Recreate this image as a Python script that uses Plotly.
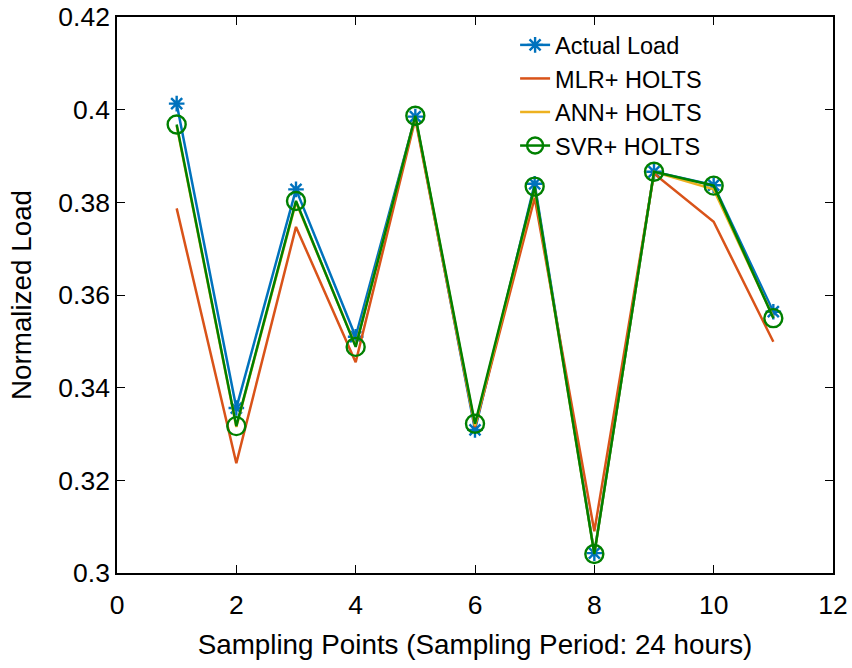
import plotly.graph_objects as go

# Sampling points (one per day)
x_points = [1, 2, 3, 4, 5, 6, 7, 8, 9, 10, 11]

# Normalized load: measured and forecasts from each hybrid model
actual_load = [0.4013, 0.3356, 0.3828, 0.3510, 0.3985, 0.3309, 0.3840, 0.3043, 0.3866, 0.3837, 0.3564]
mlr_holts = [0.3787, 0.3237, 0.3747, 0.3455, 0.3980, 0.3315, 0.3810, 0.3090, 0.3862, 0.3758, 0.3499]
ann_holts = [0.3965, 0.3315, 0.3800, 0.3490, 0.3985, 0.3318, 0.3830, 0.3042, 0.3866, 0.3828, 0.3552]
svr_holts = [0.3968, 0.3317, 0.3803, 0.3488, 0.3987, 0.3322, 0.3834, 0.3041, 0.3866, 0.3836, 0.3550]

x_ticks = [0, 2, 4, 6, 8, 10, 12]
y_ticks = [0.30, 0.32, 0.34, 0.36, 0.38, 0.40, 0.42]
y_tick_text = ["0.3", "0.32", "0.34", "0.36", "0.38", "0.4", "0.42"]

BLUE = "#0072BD"
ORANGE = "#D95319"
YELLOW = "#EDB120"
GREEN = "#008000"
FONT = "Liberation Sans, Arial, sans-serif"
LW = 2.5

fig = go.Figure()
fig.add_trace(go.Scatter(
    x=x_points, y=actual_load, name="Actual Load", mode="lines+markers",
    line=dict(color=BLUE, width=LW),
    marker=dict(symbol="asterisk-open", size=13, color=BLUE, line=dict(color=BLUE, width=2.4)),
))
fig.add_trace(go.Scatter(
    x=x_points, y=mlr_holts, name="MLR+ HOLTS", mode="lines",
    line=dict(color=ORANGE, width=LW),
))
fig.add_trace(go.Scatter(
    x=x_points, y=ann_holts, name="ANN+ HOLTS", mode="lines",
    line=dict(color=YELLOW, width=LW),
))
fig.add_trace(go.Scatter(
    x=x_points, y=svr_holts, name="SVR+ HOLTS", mode="lines+markers",
    line=dict(color=GREEN, width=LW),
    marker=dict(symbol="circle-open", size=18, color=GREEN, line=dict(color=GREEN, width=2.4)),
))

axis_common = dict(
    showline=True, linecolor="black", linewidth=1.6, mirror="ticks",
    ticks="inside", ticklen=8, tickwidth=1.4, tickcolor="black",
    showgrid=False, zeroline=False, automargin=False,
    tickfont=dict(family=FONT, size=26.5, color="black"),
)

fig.update_xaxes(
    range=[0, 12], tickvals=x_ticks, ticktext=[str(v) for v in x_ticks],
    ticklabelstandoff=7,
    title=dict(text="Sampling Points (Sampling Period: 24 hours)", standoff=16,
               font=dict(family=FONT, size=27.8, color="black")),
    **axis_common,
)
fig.update_yaxes(
    range=[0.30, 0.42], tickvals=y_ticks, ticktext=y_tick_text,
    title=dict(text="Normalized Load", standoff=19,
               font=dict(family=FONT, size=27.8, color="black")),
    **axis_common,
)

fig.update_layout(
    width=852, height=668,
    margin=dict(l=117, r=19, t=17, b=95, autoexpand=False),
    paper_bgcolor="white", plot_bgcolor="white",
    showlegend=True,
    legend=dict(
        x=0.556, y=0.989, xanchor="left", yanchor="top",
        bgcolor="rgba(0,0,0,0)", borderwidth=0,
        font=dict(family=FONT, size=23.5, color="black"),
        tracegroupgap=0,
    ),
)

fig.write_html("out.html")
